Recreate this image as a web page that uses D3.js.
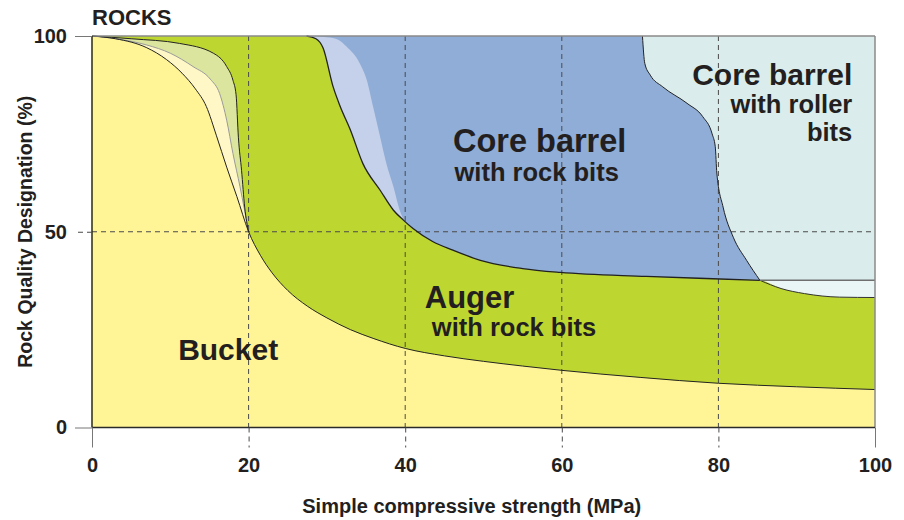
<!DOCTYPE html>
<html>
<head>
<meta charset="utf-8">
<script src="https://cdn.jsdelivr.net/npm/d3@7"></script>
<style>
  body { margin: 0; background: #fff; }
  svg { display: block; font-family: "Liberation Sans", Arial, Helvetica, sans-serif; }
  .tick text { font-size: 20px; font-weight: bold; fill: #231f20; }
</style>
</head>
<body>
<svg width="904" height="520"></svg>
<script>
const width = 904;
const height = 520;

// axis ticks
const xTicks = [0, 20, 40, 60, 80, 100];
const yTicks = [0, 50, 100];

// boundary curves, [strength MPa, RQD %]
const bucketTop = [[0,100],[3,99.3],[7,97],[9.5,94],[11.5,90.5],[13.2,86.5],[14.6,82],[15.9,74.5],
  [17.2,66.5],[18.5,59],[20,50],[21.5,44],[23,39.5],[25,35],[27.5,31],[30,28],[33,25],[36,22.7],
  [40,20.2],[45,18.3],[50,16.9],[55,15.7],[60,14.6],[70,12.8],[80,11.3],[90,10.4],[100,9.7]];
const creamTop = [[0,100],[4,99],[7,97.7],[10,95.6],[12.9,92.2],[15.1,89],[16.3,85.3],[17.2,78.5],
  [18,70],[18.9,61.5],[20,50]];
const lightGreenTop = [[0,100],[5,99.3],[11.2,98.1],[15.5,95.6],[17.2,92.2],[18,88.7],[18.4,85],
  [18.7,74],[19.1,65.7],[19.5,56.3],[20,50]];
const augerTop = [[27.4,100],[28.6,99.3],[29.5,97],[30.8,87],[31.7,82],[33,76],[34.6,67.4],[36.8,60.6],
  [38.5,55.5],[39.8,52.9],[41,50.8],[43.5,47.5],[46.1,45.3],[49.6,42.7],[55,40.6],[59.8,39.6],
  [70.8,38.6],[79.3,38],[85.3,37.6]];
const augerTail = [[85.3,37.6],[88,35.5],[91,34.2],[95.5,33.3],[100,33.2]];
const lightBlueEdge = [[27.4,100],[30,99.7],[31.5,99],[32.5,97.3],[34.2,93],[35.1,88.7],[35.9,81.9],
  [36.8,74.2],[37.6,67.4],[38.5,61.5],[39.3,55.5],[40,52.5],[41,50.8]];
const rollerEdge = [[70.3,100],[70.6,93],[71.3,90],[72.9,87],[76,82.8],[78,79.4],[79.2,75],[79.6,71.7],
  [79.8,65],[80.6,56.3],[81.9,48.6],[83.6,42.7],[85.3,37.6]];
const rollerFloor = [[85.3,37.6],[100,37.6]];

const colors = {
  roller: "#daedec",
  pale: "#eaf5f5",
  core: "#8fadd6",
  coreLight: "#c5d1ea",
  auger: "#bed730",
  augerLight: "#dbe59e",
  cream: "#fff8c6",
  bucket: "#fff597"
};

const svg = d3.select("svg");

const x = d3.scaleLinear().domain([0, 100]).range([92, 875]);
const y = d3.scaleLinear().domain([0, 100]).range([427.5, 36]);

const line = d3.line()
  .x(d => x(d[0]))
  .y(d => y(d[1]))
  .curve(d3.curveMonotoneX);

// curve + straight closing corners
function region(start, pts, corners) {
  let p = start ? `M${x(start[0])},${y(start[1])}` + line(pts).replace(/^M/, "L") : line(pts);
  corners.forEach(c => { p += `L${x(c[0])},${y(c[1])}`; });
  return p + "Z";
}

const fills = svg.append("g");

fills.append("rect")
  .attr("x", x(0)).attr("y", y(100))
  .attr("width", x(100) - x(0)).attr("height", y(0) - y(100))
  .attr("fill", colors.roller);

fills.append("path")
  .attr("d", region(null, rollerFloor, [[100, 0], [85.3, 0]]))
  .attr("fill", colors.pale);

fills.append("path")
  .attr("d", region([0, 100], rollerEdge, [[85.3, 0], [0, 0]]))
  .attr("fill", colors.core);

fills.append("path")
  .attr("d", region([0, 100], lightBlueEdge, [[41, 0], [0, 0]]))
  .attr("fill", colors.coreLight);

fills.append("path")
  .attr("d", region([0, 100], augerTop.concat(augerTail.slice(1)), [[100, 0], [0, 0]]))
  .attr("fill", colors.auger);

fills.append("path")
  .attr("d", region(null, lightGreenTop, [[20, 0], [0, 0]]))
  .attr("fill", colors.augerLight);

fills.append("path")
  .attr("d", region(null, creamTop, [[20, 0], [0, 0]]))
  .attr("fill", colors.cream);

fills.append("path")
  .attr("d", region(null, bucketTop, [[100, 0], [0, 0]]))
  .attr("fill", colors.bucket);

// grid
const grid = svg.append("g")
  .attr("stroke", "#4a4a4a")
  .attr("stroke-width", 1)
  .attr("stroke-dasharray", "5,4");

grid.selectAll("line.v")
  .data(xTicks.filter(d => d > 0 && d < 100))
  .join("line")
  .attr("x1", d => x(d)).attr("x2", d => x(d))
  .attr("y1", y(100)).attr("y2", y(0));

grid.append("line")
  .attr("x1", x(0)).attr("x2", x(100))
  .attr("y1", y(50)).attr("y2", y(50));

// boundary lines
const lines = svg.append("g").attr("fill", "none");

lines.append("path").attr("d", line(creamTop)).attr("stroke", "#9a9a9a").attr("stroke-width", 1);
lines.append("path").attr("d", line(lightGreenTop)).attr("stroke", "#222").attr("stroke-width", 1);
lines.append("path").attr("d", line(bucketTop)).attr("stroke", "#222").attr("stroke-width", 1);
lines.append("path").attr("d", line(augerTop)).attr("stroke", "#222").attr("stroke-width", 1.3);
lines.append("path").attr("d", line(augerTail)).attr("stroke", "#333").attr("stroke-width", 1);
lines.append("path").attr("d", line(rollerEdge)).attr("stroke", "#222").attr("stroke-width", 1);
lines.append("path").attr("d", line(rollerFloor)).attr("stroke", "#6f6f6f").attr("stroke-width", 1.5);

// frame
svg.append("line")
  .attr("x1", x(0)).attr("x2", x(100)).attr("y1", y(100)).attr("y2", y(100))
  .attr("stroke", "#8a8a8a").attr("stroke-width", 1.5);
svg.append("line")
  .attr("x1", x(100)).attr("x2", x(100)).attr("y1", y(100)).attr("y2", y(0))
  .attr("stroke", "#8a8a8a").attr("stroke-width", 1.5);
svg.append("line")
  .attr("x1", x(0)).attr("x2", x(0)).attr("y1", y(100)).attr("y2", y(0))
  .attr("stroke", "#2a2a10").attr("stroke-width", 1.5);
svg.append("line")
  .attr("x1", x(0)).attr("x2", x(100)).attr("y1", y(0)).attr("y2", y(0))
  .attr("stroke", "#2a2a2a").attr("stroke-width", 1.3);

// axes
const xAxis = svg.append("g")
  .attr("transform", `translate(0,${y(0)})`)
  .call(d3.axisBottom(x).tickValues(xTicks).tickSize(20).tickPadding(10))
  .call(g => g.select(".domain").remove());
xAxis.selectAll(".tick line")
  .attr("stroke", d => (d === 0 || d === 100) ? "#777" : "#4a4a4a")
  .attr("stroke-dasharray", d => (d === 0 || d === 100) ? null : "5,4");

const yAxis = svg.append("g")
  .attr("transform", `translate(${x(0)},0)`)
  .call(d3.axisLeft(y).tickValues(yTicks).tickSize(17).tickPadding(8))
  .call(g => g.select(".domain").remove());
yAxis.selectAll(".tick line")
  .attr("stroke", d => d === 50 ? "#4a4a4a" : "#777")
  .attr("stroke-dasharray", d => d === 50 ? "5,4" : null);

svg.selectAll(".tick text").attr("font-family", null).attr("font-size", null);

// titles
svg.append("text")
  .attr("x", x(0)).attr("y", 25)
  .attr("font-size", 22).attr("font-weight", "bold").attr("fill", "#231f20")
  .text("ROCKS");

svg.append("text")
  .attr("transform", `translate(32,${y(50)}) rotate(-90)`)
  .attr("text-anchor", "middle")
  .attr("font-size", 19.5).attr("font-weight", "bold").attr("fill", "#231f20")
  .text("Rock Quality Designation (%)");

svg.append("text")
  .attr("x", x(48.5)).attr("y", 513)
  .attr("text-anchor", "middle")
  .attr("font-size", 20).attr("font-weight", "bold").attr("fill", "#231f20")
  .text("Simple compressive strength (MPa)");

// region labels
const labels = svg.append("g").attr("font-weight", "bold").attr("fill", "#231f20");

function label(t, xv, yv, size, anchor) {
  labels.append("text")
    .attr("x", x(xv)).attr("y", y(yv))
    .attr("font-size", size)
    .attr("text-anchor", anchor || "start")
    .text(t);
}

label("Core barrel", 46.1, 70.4, 32.5);
label("with rock bits", 46.3, 63, 25.5);
label("Core barrel", 97.1, 87.5, 30, "end");
label("with roller", 97.1, 80.3, 25.5, "end");
label("bits", 97.1, 73.3, 25.5, "end");
label("Auger", 42.5, 30.5, 31);
label("with rock bits", 43.4, 23.4, 25.5);
label("Bucket", 11, 17.2, 30);
</script>
</body>
</html>
